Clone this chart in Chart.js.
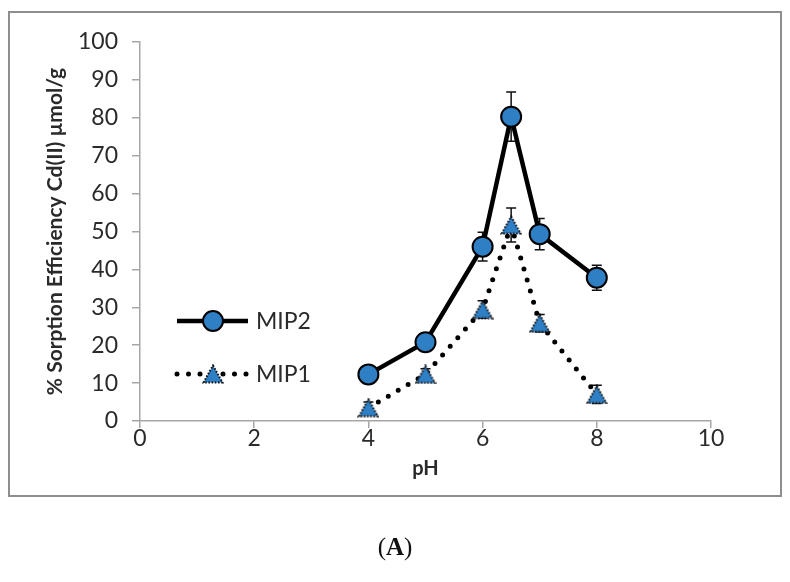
<!DOCTYPE html>
<html>
<head>
<meta charset="utf-8">
<script src="https://cdn.jsdelivr.net/npm/chart.js@4.4.0/dist/chart.umd.min.js"></script>
<style>
  html, body { margin: 0; padding: 0; background: #fff; }
  #wrap { position: relative; width: 790px; height: 582px; }
  #frame { position: absolute; left: 8px; top: 11px; width: 770px; height: 482px; border: 2px solid #8e8e8e; pointer-events: none; }
  #cap { position: absolute; left: 0; top: 533px; width: 790px; text-align: center; font-family: "Liberation Serif", serif; font-size: 25px; color: #111; }
</style>
</head>
<body>
<div id="wrap">
  <canvas id="sorptionChart" width="790" height="582"></canvas>
  <div id="frame"></div>
  <div id="cap">(<b>A</b>)</div>
</div>
<script>
// data
const phValues = [4, 5, 6, 6.5, 7, 8];
const mip2Values = [12.3, 20.8, 46.0, 80.3, 49.3, 37.8];
const mip2Errors = [1.2, 1.2, 3.8, 6.5, 4.1, 3.3];
const mip1Values = [3.5, 12.3, 29.4, 51.7, 25.8, 7.0];
const mip1Errors = [1.5, 1.5, 2.3, 4.5, 2.3, 2.4];
const xTicks = [0, 2, 4, 6, 8, 10];
const yTicks = [0, 10, 20, 30, 40, 50, 60, 70, 80, 90, 100];

const markerBlue = '#2f7fc5';
const axisGrey = '#a6a6a6';

Chart.defaults.font.family = 'Lato, "Open Sans", sans-serif';
Chart.defaults.color = '#2a2a2a';

// blue triangle with a dotted outline, used as the MIP1 marker
function dottedTriangle() {
    const c = document.createElement('canvas');
    c.width = 22; c.height = 20;
    const g = c.getContext('2d');
    g.beginPath();
    g.moveTo(11, 1.5); g.lineTo(20.5, 18.5); g.lineTo(1.5, 18.5); g.closePath();
    g.fillStyle = markerBlue;
    g.fill();
    g.setLineDash([1.6, 1.6]);
    g.lineWidth = 2;
    g.strokeStyle = '#111';
    g.stroke();
    return c;
}
const triangleMarker = dottedTriangle();

// vertical error bars, drawn under the markers
const errorBars = {
    id: 'errorBars',
    beforeDatasetsDraw(chart) {
        const ctx = chart.ctx;
        const xs = chart.scales.x, ys = chart.scales.y;
        ctx.save();
        ctx.strokeStyle = '#111';
        ctx.lineWidth = 1.5;
        chart.data.datasets.forEach(ds => {
            ds.data.forEach((p, i) => {
                const err = ds.errors[i];
                const x = xs.getPixelForValue(p.x);
                const yTop = ys.getPixelForValue(p.y + err);
                const yBot = ys.getPixelForValue(p.y - err);
                ctx.beginPath();
                ctx.moveTo(x, yTop); ctx.lineTo(x, yBot);
                ctx.moveTo(x - 5, yTop); ctx.lineTo(x + 5, yTop);
                ctx.moveTo(x - 5, yBot); ctx.lineTo(x + 5, yBot);
                ctx.stroke();
            });
        });
        ctx.restore();
    }
};

// legend sitting inside the frame, left of the data, like the original
const sideLegend = {
    id: 'sideLegend',
    afterDraw(chart) {
        const ctx = chart.ctx;
        const rows = [321, 374];
        chart.data.datasets.forEach((ds, i) => {
            const y = rows[i];
            ctx.save();
            ctx.strokeStyle = ds.borderColor;
            ctx.lineWidth = ds.borderWidth;
            ctx.lineCap = ds.borderCapStyle || 'butt';
            ctx.setLineDash(ds.borderDash || []);
            ctx.beginPath();
            ctx.moveTo(177, y);
            ctx.lineTo(248, y);
            ctx.stroke();
            ctx.setLineDash([]);
            if (ds.pointStyle instanceof HTMLCanvasElement) {
                ctx.drawImage(ds.pointStyle, 213 - ds.pointStyle.width / 2, y - ds.pointStyle.height / 2);
            } else {
                ctx.beginPath();
                ctx.arc(213, y, ds.pointRadius, 0, Math.PI * 2);
                ctx.fillStyle = ds.pointBackgroundColor;
                ctx.strokeStyle = ds.pointBorderColor;
                ctx.lineWidth = ds.pointBorderWidth;
                ctx.fill();
                ctx.stroke();
            }
            ctx.fillStyle = '#2a2a2a';
            ctx.font = '23px Lato, "Open Sans", sans-serif';
            ctx.textBaseline = 'middle';
            ctx.fillText(ds.label, 256, y + 1);
            ctx.restore();
        });
    }
};

new Chart(document.getElementById('sorptionChart').getContext('2d'), {
    type: 'line',
    data: {
        datasets: [{
            label: 'MIP2',
            data: phValues.map((x, i) => ({ x: x, y: mip2Values[i] })),
            errors: mip2Errors,
            borderColor: '#000',
            borderWidth: 4.5,
            pointStyle: 'circle',
            pointRadius: 10,
            pointBackgroundColor: markerBlue,
            pointBorderColor: '#000',
            pointBorderWidth: 2,
            tension: 0
        }, {
            label: 'MIP1',
            data: phValues.map((x, i) => ({ x: x, y: mip1Values[i] })),
            errors: mip1Errors,
            borderColor: '#000',
            borderWidth: 5,
            borderDash: [0, 11.5],
            borderCapStyle: 'round',
            pointStyle: triangleMarker,
            pointRadius: 10,
            tension: 0
        }]
    },
    options: {
        responsive: false,
        animation: false,
        layout: { padding: { left: 40, right: 79, top: 42, bottom: 92 } },
        plugins: {
            legend: { display: false },
            tooltip: { enabled: false }
        },
        scales: {
            x: {
                type: 'linear',
                min: 0,
                max: 10,
                afterBuildTicks: s => { s.ticks = xTicks.map(v => ({ value: v })); },
                afterFit: s => { s.height = 69; },
                ticks: { font: { size: 23 }, padding: -3, maxRotation: 0 },
                grid: { drawOnChartArea: false, tickLength: 7, color: axisGrey, lineWidth: 1.5 },
                border: { color: axisGrey, width: 1.5 },
                title: { display: true, text: 'pH', font: { size: 20, weight: 'bold' }, padding: { top: 0, bottom: 9 } }
            },
            y: {
                min: 0,
                max: 100,
                afterBuildTicks: s => { s.ticks = yTicks.map(v => ({ value: v })); },
                afterFit: s => { s.width = 100; },
                ticks: { font: { size: 23 }, padding: 14 },
                grid: { drawOnChartArea: false, tickLength: 8, color: axisGrey, lineWidth: 1.5 },
                border: { color: axisGrey, width: 1.5 },
                title: { display: true, text: '% Sorption Efficiency Cd(II) µmol/g', font: { size: 21, weight: 'bold' }, padding: { top: 3, bottom: 0 } }
            }
        }
    },
    plugins: [errorBars, sideLegend]
});
</script>
</body>
</html>
